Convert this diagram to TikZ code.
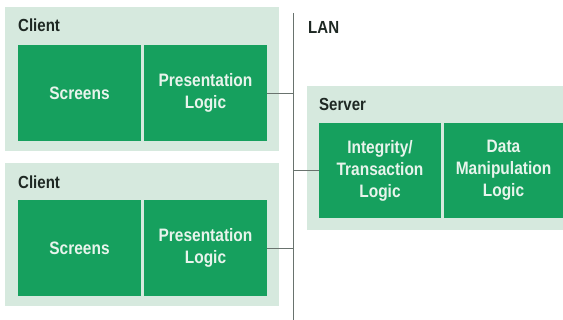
\documentclass[tikz,border=0pt]{standalone}
\usepackage{fontspec}
\setmainfont{Liberation Sans}[FakeStretch=0.86]
\definecolor{panelc}{RGB}{214,233,222}
\definecolor{boxc}{RGB}{22,160,94}
\definecolor{boxtext}{RGB}{232,244,236}
\definecolor{labc}{RGB}{30,40,35}
\definecolor{linec}{RGB}{105,115,110}
\begin{document}
\begin{tikzpicture}[x=1pt,y=-1pt,
  panel/.style={fill=panelc,draw=none,inner sep=0pt,anchor=center},
  gbox/.style={fill=boxc,draw=none,inner sep=0pt,anchor=center,align=center,
    text=boxtext,font=\fontsize{18}{22}\selectfont\bfseries},
  lab/.style={anchor=west,text=labc,font=\fontsize{17.5}{20}\selectfont\bfseries,inner sep=0pt},
  conn/.style={draw=linec,line width=0.9pt}]
\useasboundingbox (0,0) rectangle (563,320);
% panels
\node[panel,minimum width=274pt,minimum height=144pt] (c1) at (142,79) {};
\node[panel,minimum width=274pt,minimum height=143pt] (c2) at (142,234.5) {};
\node[panel,minimum width=256pt,minimum height=144pt] (sv) at (435,158) {};
% boxes
\node[gbox,minimum width=123pt,minimum height=96pt] (s1) at (79.5,93) {Screens};
\node[gbox,minimum width=123pt,minimum height=96pt] (p1) at (205.5,93) {Presentation\\Logic};
\node[gbox,minimum width=123pt,minimum height=96pt] (s2) at (79.5,248) {Screens};
\node[gbox,minimum width=123pt,minimum height=96pt] (p2) at (205.5,248) {Presentation\\Logic};
\node[gbox,minimum width=122pt,minimum height=95pt] (ig) at (380,170.5) {Integrity/\\Transaction\\Logic};
\node[gbox,minimum width=119pt,minimum height=95pt] (dm) at (503.5,170.5) {Data\\Manipulation\\Logic};
% labels
\node[lab] (lc1) at (18,25) {Client};
\node[lab] (lc2) at (18,182) {Client};
\node[lab] (ls) at (319,104) {Server};
\node[lab] (ll) at (308,27) {LAN};
% LAN
\coordinate (lt) at (293,13);
\coordinate (lb) at (293,320);
\draw[conn] (lt) -- (lb);
\draw[conn] (p1.east) -- (p1.east -| lt);
\draw[conn] (p2.east) -- (p2.east -| lt);
\draw[conn] (ig.west) -- (ig.west -| lt);
\end{tikzpicture}
\end{document}
